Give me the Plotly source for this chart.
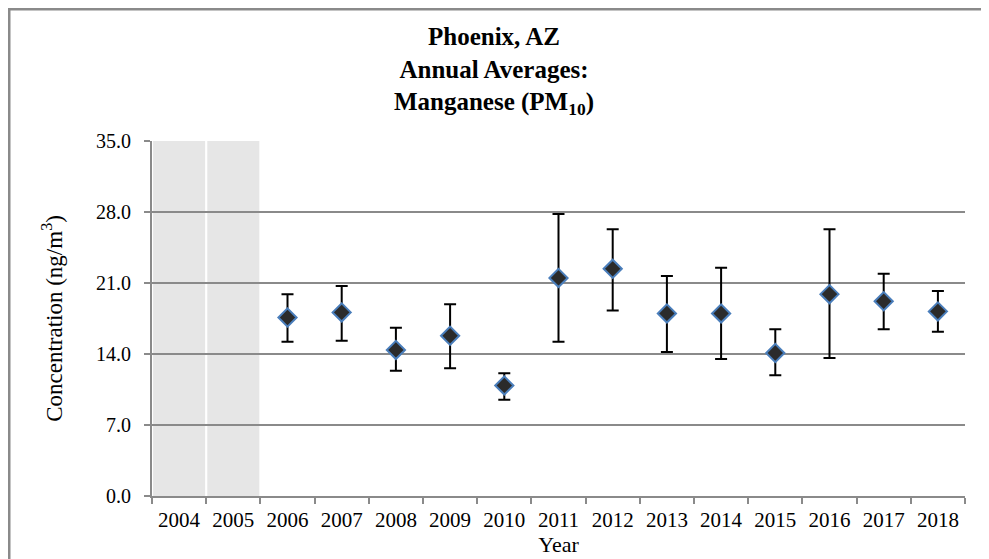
import plotly.graph_objects as go

years = [str(y) for y in range(2004, 2019)]
no_data_years = ["2004", "2005"]
no_data_height = [35.0, 35.0]

sample_years = [str(y) for y in range(2006, 2019)]
mean_conc = [17.6, 18.1, 14.4, 15.8, 10.9, 21.5, 22.4, 18.0, 18.0, 14.1, 19.9, 19.2, 18.2]
upper_ci = [19.9, 20.7, 16.6, 18.9, 12.1, 27.8, 26.3, 21.7, 22.5, 16.45, 26.3, 21.9, 20.2]
lower_ci = [15.2, 15.3, 12.35, 12.6, 9.5, 15.2, 18.3, 14.2, 13.5, 11.9, 13.6, 16.45, 16.2]

y_ticks = [0, 7, 14, 21, 28, 35]

err_plus = [u - m for u, m in zip(upper_ci, mean_conc)]
err_minus = [m - l for m, l in zip(mean_conc, lower_ci)]

FONT = "Liberation Serif, Times New Roman, serif"
GRAY = "#8a8a8a"

fig = go.Figure()
fig.add_trace(go.Bar(
    x=no_data_years, y=no_data_height, width=0.96,
    marker=dict(color="rgba(140,140,140,0.22)", line=dict(width=0)),
    hoverinfo="skip", showlegend=False,
))
fig.add_trace(go.Scatter(
    x=sample_years, y=mean_conc, mode="markers",
    marker=dict(symbol="diamond", size=14, color="#2b2b2b",
                line=dict(color="#4a7ebb", width=2)),
    error_y=dict(type="data", symmetric=False, array=err_plus, arrayminus=err_minus,
                 color="black", thickness=2, width=6),
    showlegend=False,
))

# The page body adds an 8px offset; figure coordinates below account for it.
W, H = 989, 559
L, R, T, B = 144, 32, 133, 71
pw, ph = W - L - R, H - T - B
fx = lambda px: (px - L) / pw
fy = lambda py: (H - B - py) / ph

fig.add_shape(type="line", xref="paper", yref="paper",
              x0=fx(1), x1=fx(1), y0=fy(H + 10), y1=fy(0), line=dict(color=GRAY, width=3))
fig.add_shape(type="line", xref="paper", yref="paper",
              x0=fx(0), x1=fx(W + 10), y0=fy(1), y1=fy(1), line=dict(color=GRAY, width=3))

fig.update_layout(
    width=W, height=H,
    margin=dict(l=L, r=R, t=T, b=B),
    paper_bgcolor="white", plot_bgcolor="white",
    font=dict(family=FONT, color="black", size=20),
    title=dict(
        text="<b>Phoenix, AZ<br>Annual Averages:<br>Manganese (PM<sub>10</sub>)</b>",
        x=486 / W, xref="container", xanchor="center",
        y=1 - 37 / H, yref="container", yanchor="top",
        font=dict(family=FONT, size=25, color="black"),
    ),
    bargap=0.04,
    xaxis=dict(
        type="category", categoryorder="array", categoryarray=years,
        tickvals=years, ticktext=years, range=[-0.5, 14.5], tickangle=0,
        showline=True, linecolor=GRAY, linewidth=2, automargin=False,
        ticks="outside", tickson="boundaries", ticklen=6, tickcolor=GRAY, tickwidth=1.5,
        showgrid=False, tickfont=dict(size=21), ticklabelstandoff=4,
        title=dict(text="Year", font=dict(size=22), standoff=2),
    ),
    yaxis=dict(
        range=[0, 35], tickvals=y_ticks, tickformat=".1f", automargin=False,
        showline=True, linecolor=GRAY, linewidth=2,
        ticks="outside", ticklen=6, tickcolor=GRAY, tickwidth=1.5,
        showgrid=True, gridcolor=GRAY, gridwidth=1.5, zeroline=False,
        tickfont=dict(size=20), ticklabelstandoff=9,
        title=dict(text="Concentration (ng/m<sup>3</sup>)", font=dict(size=23), standoff=27),
    ),
)

fig.write_html("out.html")
